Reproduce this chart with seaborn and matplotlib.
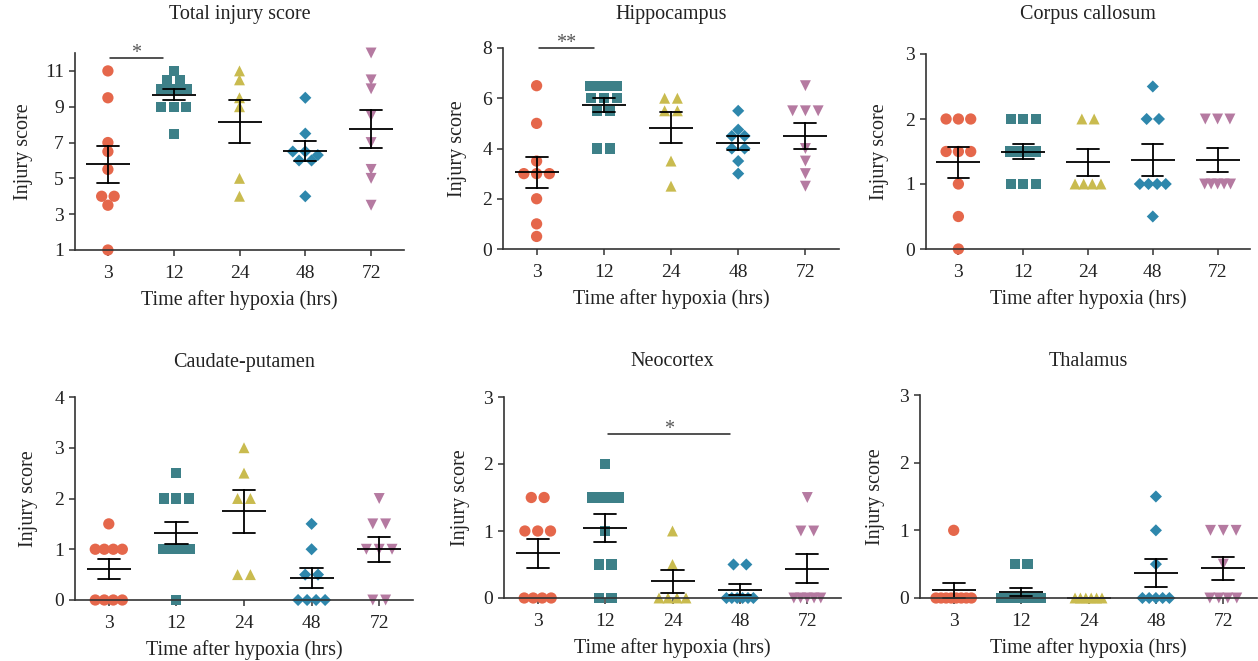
import numpy as np
import pandas as pd
import matplotlib
matplotlib.use("Agg")
import matplotlib.pyplot as plt
import matplotlib.transforms as mtransforms
from matplotlib.path import Path
import seaborn as sns

# ---------------- data ----------------
times = ["3", "12", "24", "48", "72"]
titles = ["Total injury score", "Hippocampus", "Corpus callosum",
          "Caudate-putamen", "Neocortex", "Thalamus"]

total_score = [[11, 9.5, 7, 6.5, 5.5, 4, 4, 3.5, 1],
               [11, 10.5, 10.5, 10, 10, 10, 10, 9, 9, 9, 7.5],
               [11, 10.5, 9.5, 9, 5, 4],
               [9.5, 7.5, 6.5, 6.5, 6.3, 6, 6, 4],
               [12, 10.5, 10, 8.5, 7, 5.5, 5, 3.5]]
hippocampus = [[6.5, 5, 3.5, 3, 3, 3, 2, 1, 0.5],
               [6.5, 6.5, 6.5, 6.5, 6, 6, 6, 5.5, 5.5, 4, 4],
               [6, 6, 5.5, 5.5, 3.5, 2.5],
               [5.5, 4.75, 4.5, 4.5, 4, 4, 3.5, 3],
               [6.5, 5.5, 5.5, 5.5, 4, 3.5, 3, 2.5]]
corpus_callosum = [[2, 2, 2, 1.5, 1.5, 1.5, 1, 0.5, 0],
                   [2, 2, 2, 1.5, 1.5, 1.5, 1.5, 1.5, 1, 1, 1],
                   [2, 2, 1, 1, 1, 1],
                   [2.5, 2, 2, 1, 1, 1, 1, 0.5],
                   [2, 2, 2, 1, 1, 1, 1, 1]]
caudate_putamen = [[1.5, 1, 1, 1, 1, 0, 0, 0, 0],
                   [2.5, 2, 2, 2, 1, 1, 1, 1, 1, 1, 0],
                   [3, 2.5, 2, 2, 0.5, 0.5],
                   [1.5, 1, 0.5, 0.5, 0, 0, 0, 0],
                   [2, 1.5, 1.5, 1, 1, 1, 0, 0]]
neocortex = [[1.5, 1.5, 1, 1, 1, 0, 0, 0, 0],
             [2, 1.5, 1.5, 1.5, 1.5, 1.5, 1, 0.5, 0.5, 0, 0],
             [1, 0.5, 0, 0, 0, 0],
             [0.5, 0.5, 0, 0, 0, 0, 0, 0],
             [1.5, 1, 1, 0, 0, 0, 0, 0]]
thalamus = [[1, 0, 0, 0, 0, 0, 0, 0, 0],
            [0.5, 0.5, 0, 0, 0, 0, 0, 0, 0, 0, 0],
            [0, 0, 0, 0, 0, 0],
            [1.5, 1, 0.5, 0, 0, 0, 0, 0],
            [1, 1, 1, 0.5, 0, 0, 0, 0]]

region_data = [total_score, hippocampus, corpus_callosum,
               caudate_putamen, neocortex, thalamus]
y_limits = [(1, 12), (0, 8), (0, 3), (0, 4), (0, 3), (0, 3)]
y_ticks = [[1, 3, 5, 7, 9, 11], [0, 2, 4, 6, 8], [0, 1, 2, 3],
           [0, 1, 2, 3, 4], [0, 1, 2, 3], [0, 1, 2, 3]]
# significance bars
sig_panel = [0, 1, 4]
sig_from = [0.03, 0.03, 1.04]
sig_to = [0.83, 0.85, 2.86]
sig_height = [11.72, 8.0, 2.45]
sig_label = ["*", "**", "*"]

# ---------------- style ----------------
palette = {"3": "#E5674B", "12": "#3D8088", "24": "#C9BB4F",
           "48": "#2E87AC", "72": "#B57AA1"}
diamond = Path([(0, 1), (1, 0), (0, -1), (-1, 0), (0, 1)],
               [Path.MOVETO, Path.LINETO, Path.LINETO, Path.LINETO, Path.CLOSEPOLY])
markers = {"3": "o", "12": "s", "24": "^", "48": diamond, "72": "v"}
sizes = {"3": 66, "12": 52, "24": 62, "48": 76, "72": 62}

sns.set_style("ticks")
plt.rcParams["font.family"] = ["Liberation Serif", "DejaVu Serif"]
FS = 14.5
TFS = 14
TXT = "#222222"
AX = "#333333"

W, H = 1258, 661
# axes boxes in pixels: left, right, top, bottom
boxes = [(75, 404, 53, 250), (503, 839, 48, 249), (926, 1250, 54, 249),
         (75, 413, 397, 600), (504, 841, 397, 598), (920, 1257, 395, 598)]
title_y = [15, 15, 15, 362, 362, 362]
ylabel_off = [42, 36, 37, 37, 34, 35]


def layout_offsets(vals):
    vals = np.asarray(vals, float)
    keys = np.round(vals * 2) / 2
    off = np.zeros(len(vals))
    for k in np.unique(keys):
        idx = np.where(keys == k)[0]
        n = len(idx)
        if n < 2:
            continue
        span = min(0.19 * (n - 1), max(0.40, 0.075 * (n - 1)))
        off[idx] = np.linspace(-span / 2, span / 2, n)
    return off


def make_frame(groups):
    rows = []
    for i, (t, vals) in enumerate(zip(times, groups)):
        off = layout_offsets(vals)
        for v, o in zip(vals, off):
            rows.append(dict(time=t, pos=i, xpos=i + o, score=v))
    return pd.DataFrame(rows)


fig = plt.figure(figsize=(W / 100, H / 100), dpi=100)

for p in range(6):
    l, r, t, b = boxes[p]
    ax = fig.add_axes([l / W, (H - b) / H, (r - l) / W, (b - t) / H])
    df = make_frame(region_data[p])

    sns.scatterplot(data=df, x="xpos", y="score", hue="time", style="time",
                    size="time", hue_order=times, style_order=times,
                    size_order=times, palette=palette, markers=markers,
                    sizes=sizes, linewidth=0, legend=False, ax=ax)
    for c in ax.collections:
        c.set_clip_on(False)

    sns.pointplot(data=df, x="pos", y="score", native_scale=True,
                  errorbar="se", capsize=0.33, color="black", marker="_",
                  markersize=32, markeredgewidth=1.3, linestyle="none",
                  err_kws={"linewidth": 1.3}, ax=ax)
    for ln in ax.lines:
        ln.set_clip_on(False)

    ax.set_xlim(-0.5, 4.5)
    ax.set_xticks(range(len(times)))
    ax.set_xticklabels(times)
    ax.set_ylim(*y_limits[p])
    ax.set_yticks(y_ticks[p])
    sns.despine(ax=ax)
    for s in ["left", "bottom"]:
        ax.spines[s].set_color(AX)
        ax.spines[s].set_linewidth(1.2)
    ax.tick_params(direction="out", length=4, width=1.1, color=AX,
                   labelsize=TFS, labelcolor=TXT)
    ax.tick_params(axis="x", pad=7)
    ax.tick_params(axis="y", pad=4)

    ax.set_xlabel("Time after hypoxia (hrs)", fontsize=FS, color=TXT)
    ax.set_ylabel("Injury score", fontsize=FS, color=TXT)
    ax.xaxis.set_label_coords(0.5, -40 / (b - t))
    ax.yaxis.set_label_coords(-ylabel_off[p] / (r - l), 0.5)

    tr = mtransforms.blended_transform_factory(ax.transAxes, fig.transFigure)
    ax.text(0.5, 1 - title_y[p] / H, titles[p], transform=tr,
            ha="center", va="center", fontsize=FS, color=TXT)

for p, x0, x1, yv, lab in zip(sig_panel, sig_from, sig_to, sig_height, sig_label):
    ax = fig.axes[p]
    ax.plot([x0, x1], [yv, yv], color=TXT, lw=1.1, clip_on=False)
    ax.annotate(lab, xy=((x0 + x1) / 2, yv), xytext=(0, 3),
                textcoords="offset points", ha="center", va="center",
                fontsize=FS, color="#555555", annotation_clip=False)

fig.savefig("out.png", dpi=100)
